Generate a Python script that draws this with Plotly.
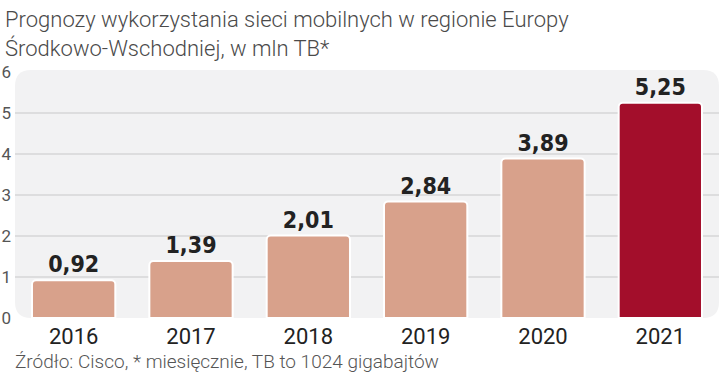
import plotly.graph_objects as go

years = ["2016", "2017", "2018", "2019", "2020", "2021"]
values = [0.92, 1.39, 2.01, 2.84, 3.89, 5.25]
value_labels = ["0,92", "1,39", "2,01", "2,84", "3,89", "5,25"]
bar_colors = ["#D8A18B", "#D8A18B", "#D8A18B", "#D8A18B", "#D8A18B", "#A30E2B"]
y_ticks = [0, 1, 2, 3, 4, 5, 6]
grid_ticks = [1, 2, 3, 4, 5]

W, H = 720, 378
L, R, T, B = 15, 1, 70, 60
pw, ph = W - L - R, H - T - B

fig = go.Figure()
fig.add_trace(go.Bar(
    x=years, y=values,
    marker=dict(color=bar_colors, line=dict(color="white", width=2), cornerradius=4),
    text=value_labels, textposition="outside", cliponaxis=False,
    textfont=dict(family="DejaVu Sans Condensed, DejaVu Sans, sans-serif",
                  size=23, color="#222222", weight="bold"),
    showlegend=False, hoverinfo="skip",
))
fig.add_trace(go.Scatter(x=[], y=[], yaxis="y2", showlegend=False, hoverinfo="skip"))

# rounded background of the plot area
rx, ry = 16 / pw, 16 / ph
path = (f"M {rx},0 L {1-rx},0 Q 1,0 1,{ry} L 1,{1-ry} Q 1,1 {1-rx},1 "
        f"L {rx},1 Q 0,1 0,{1-ry} L 0,{ry} Q 0,0 {rx},0 Z")
fig.add_shape(type="path", path=path, xref="paper", yref="paper",
              fillcolor="#F2F2F3", line=dict(width=0), layer="below")

fig.update_layout(
    width=W, height=H,
    margin=dict(l=L, r=R, t=T, b=B),
    paper_bgcolor="white", plot_bgcolor="rgba(0,0,0,0)",
    bargap=0.29,
    font=dict(family="Roboto, sans-serif"),
    xaxis=dict(showgrid=False, showline=False, ticks="",
               tickfont=dict(size=22, color="#222222"), ticklabelstandoff=3),
    yaxis=dict(range=[0, 6.05], tickvals=y_ticks, ticktext=[str(v) for v in y_ticks],
               showgrid=False, zeroline=False, showline=False, ticks="",
               tickfont=dict(size=17, color="#555555"), ticklabelstandoff=3),
    yaxis2=dict(overlaying="y", matches="y", range=[0, 6.05], tickvals=grid_ticks,
                showticklabels=False, showgrid=True, gridcolor="#DDDDDE", gridwidth=1.5,
                zeroline=False, showline=False, ticks=""),
    annotations=[
        dict(text="Prognozy wykorzystania sieci mobilnych w regionie Europy<br>Środkowo-Wschodniej, w mln TB*",
             xref="paper", yref="paper", x=(3 - L) / pw, y=1 + (T - 5) / ph,
             xanchor="left", yanchor="top", align="left", showarrow=False,
             font=dict(size=22, color="#4A4A4A", family="Roboto, sans-serif", weight=300)),
        dict(text="Źródło: Cisco, * miesięcznie, TB to 1024 gigabajtów",
             xref="paper", yref="paper", x=(13 - L) / pw, y=-(B - 3) / ph,
             xanchor="left", yanchor="bottom", showarrow=False,
             font=dict(size=19, color="#555555", family="Roboto, sans-serif", weight=300)),
    ],
)

fig.write_html("out.html", config={"displayModeBar": False},
               post_script="document.body.style.margin='0';")
